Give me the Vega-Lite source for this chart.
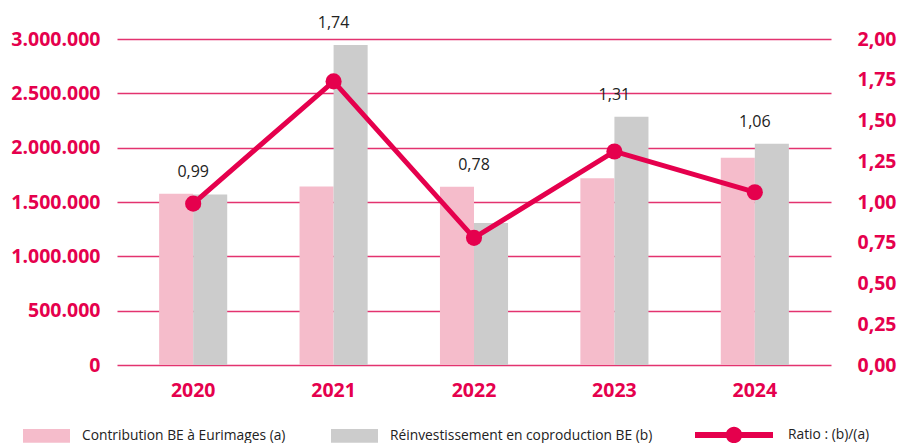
{
  "$schema": "https://vega.github.io/schema/vega-lite/v6.json",
  "width": 714,
  "height": 326,
  "autosize": "none",
  "padding": {"left": 117, "top": 39, "right": 69, "bottom": 78},
  "background": "white",
  "config": {"view": {"stroke": null}, "font": "Open Sans"},
  "data": {
    "values": [
      {"year": "2020", "contribution": 1575000, "reinvestment": 1570000, "ratio": 0.99, "label": "0,99"},
      {"year": "2021", "contribution": 1642000, "reinvestment": 2945000, "ratio": 1.74, "label": "1,74"},
      {"year": "2022", "contribution": 1640000, "reinvestment": 1306000, "ratio": 0.78, "label": "0,78"},
      {"year": "2023", "contribution": 1718000, "reinvestment": 2284000, "ratio": 1.31, "label": "1,31"},
      {"year": "2024", "contribution": 1908000, "reinvestment": 2037000, "ratio": 1.06, "label": "1,06"}
    ]
  },
  "layer": [
    {
      "layer": [
        {
          "transform": [{"fold": ["contribution", "reinvestment"], "as": ["series", "amount"]}],
          "mark": {"type": "bar"},
          "encoding": {
            "x": {
              "field": "year", "type": "nominal",
              "scale": {"paddingInner": 0.515, "paddingOuter": 0.3},
              "axis": {"title": null, "labelAngle": 0, "domain": false, "ticks": false, "labelPadding": 16, "labelFont": "Open Sans", "labelFontSize": 19.5, "labelFontWeight": "bold", "labelColor": "#E5004D"}
            },
            "xOffset": {"field": "series", "type": "nominal", "sort": ["contribution", "reinvestment"]},
            "y": {
              "field": "amount", "type": "quantitative",
              "scale": {"domain": [0, 3000000], "nice": false},
              "axis": {"title": null, "orient": "left", "values": [0, 500000, 1000000, 1500000, 2000000, 2500000, 3000000],
                "labelExpr": "replace(format(datum.value, ',.0f'), regexp(',', 'g'), '.')",
                "grid": true, "gridColor": "#E3336F", "gridWidth": 1.4, "domain": false, "ticks": false,
                "labelPadding": 17, "labelFont": "Open Sans", "labelFontSize": 19.5, "labelFontWeight": "bold", "labelColor": "#E5004D"}
            },
            "color": {
              "field": "series", "type": "nominal",
              "scale": {"domain": ["contribution", "reinvestment"], "range": ["#F5BCCB", "#CCCCCC"]},
              "legend": {
                "title": null, "orient": "none", "legendX": -94, "legendY": 373, "direction": "horizontal",
                "symbolType": "M-1,-0.29H1V0.29H-1Z", "symbolSize": 2209, "symbolStrokeWidth": 0,
                "labelOffset": 12, "columnPadding": 45, "labelFont": "Open Sans", "labelFontSize": 13.8, "labelColor": "#222222", "labelLimit": 400,
                "labelExpr": "datum.value === 'contribution' ? 'Contribution BE à Eurimages (a)' : 'Réinvestissement en coproduction BE (b)'"
              }
            }
          }
        },
        {
          "transform": [{"calculate": "max(datum.contribution, datum.reinvestment)", "as": "top"}],
          "mark": {"type": "text", "dy": -22, "font": "Open Sans", "fontSize": 16, "color": "#222222"},
          "encoding": {
            "x": {"field": "year", "type": "nominal"},
            "y": {"field": "top", "type": "quantitative"},
            "text": {"field": "label"}
          }
        }
      ]
    },
    {
      "layer": [
        {
          "mark": {"type": "line", "strokeWidth": 5},
          "encoding": {
            "x": {"field": "year", "type": "nominal"},
            "y": {
              "field": "ratio", "type": "quantitative",
              "scale": {"domain": [0, 2], "nice": false},
              "axis": {"title": null, "orient": "right", "values": [0, 0.25, 0.5, 0.75, 1, 1.25, 1.5, 1.75, 2],
                "labelExpr": "replace(format(datum.value, '.2f'), '.', ',')",
                "grid": false, "domain": false, "ticks": false,
                "labelPadding": 26, "labelFont": "Open Sans", "labelFontSize": 19.5, "labelFontWeight": "bold", "labelColor": "#E5004D"}
            },
            "color": {
              "datum": "Ratio : (b)/(a)",
              "scale": {"range": ["#E5004D"]},
              "legend": {
                "title": null, "orient": "none", "legendX": 578, "legendY": 357, "direction": "horizontal",
                "symbolType": "M-1,-0.08H1V0.08H-1Z M-0.21,0A0.21,0.21 0 1,1 0.21,0A0.21,0.21 0 1,1 -0.21,0Z",
                "symbolSize": 6084, "symbolFillColor": "#E5004D", "symbolStrokeWidth": 0,
                "labelOffset": 15, "labelFont": "Open Sans", "labelFontSize": 13.8, "labelColor": "#222222",
                "encode": {"symbols": {"update": {"fill": {"value": "#E5004D"}, "strokeWidth": {"value": 0}}}}
              }
            }
          }
        },
        {
          "mark": {"type": "point", "filled": true, "size": 260, "opacity": 1},
          "encoding": {
            "x": {"field": "year", "type": "nominal"},
            "y": {"field": "ratio", "type": "quantitative"},
            "color": {"datum": "Ratio : (b)/(a)"}
          }
        }
      ]
    }
  ],
  "resolve": {"scale": {"y": "independent", "color": "independent"}}
}
